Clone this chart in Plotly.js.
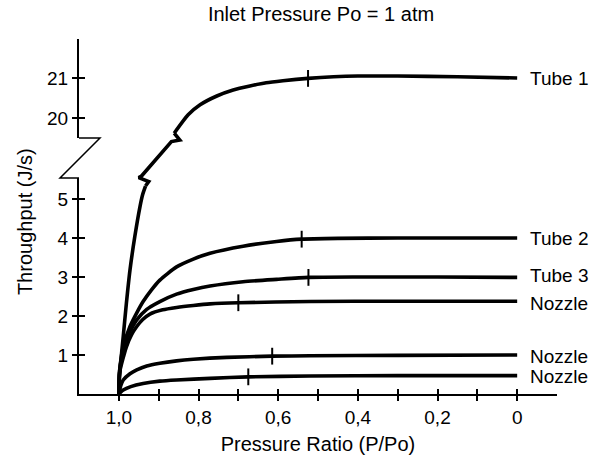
<!DOCTYPE html>
<html>
<head>
<meta charset="utf-8">
<script src="https://cdn.plot.ly/plotly-3.0.1.min.js"></script>
<style>html,body{margin:0;padding:0;background:#fff;}#chart{width:600px;height:460px;}</style>
</head>
<body>
<div id="chart"></div>
<script>
// ---- data ----
var xTickVals = [1.0, 0.9, 0.8, 0.7, 0.6, 0.5, 0.4, 0.3, 0.2, 0.1, 0];
var xTickText = ["1,0", "", "0,8", "", "0,6", "", "0,4", "", "0,2", "", "0"];
var yLowTicks = [1, 2, 3, 4, 5];
var yHighTicks = [20, 21];

// Tube 1 (lower part, below the axis break)
var tube1LowX = [1.0, 0.999, 0.997, 0.989, 0.981, 0.972, 0.960, 0.947, 0.940, 0.933];
var tube1LowY = [0, 0.3, 0.62, 1.47, 2.33, 3.18, 4.03, 4.80, 5.12, 5.33];
// Tube 1 across the break (fraction of the gap: 0 = bottom edge, 1 = top edge)
var tube1GapX = [0.933, 0.925, 0.950, 0.943, 0.868, 0.847, 0.861];
var tube1GapY = [-0.2, -0.09, 0.01, 0.05, 0.91, 0.95, 1.12];
// Tube 1 (upper part)
var tube1HighX = [0.861, 0.826, 0.796, 0.754, 0.713, 0.671, 0.630, 0.588, 0.525, 0.461, 0.40, 0.30, 0.15, 0];
var tube1HighY = [19.62, 20.08, 20.33, 20.55, 20.70, 20.80, 20.88, 20.93, 20.99, 21.03, 21.05, 21.05, 21.03, 21.0];

var tube2X = [1.0, 0.998, 0.989, 0.972, 0.955, 0.939, 0.918, 0.897, 0.855, 0.813, 0.771, 0.688, 0.604, 0.541, 0.45, 0.3, 0.15, 0];
var tube2Y = [0, 0.6, 1.21, 1.73, 2.08, 2.37, 2.67, 2.92, 3.26, 3.46, 3.61, 3.79, 3.91, 3.97, 3.99, 4.0, 4.0, 4.0];

var tube3X = [1.0, 0.998, 0.985, 0.970, 0.955, 0.930, 0.897, 0.855, 0.813, 0.771, 0.688, 0.604, 0.524, 0.4, 0.2, 0];
var tube3Y = [0, 0.6, 1.30, 1.64, 1.90, 2.17, 2.37, 2.56, 2.68, 2.77, 2.88, 2.94, 2.99, 3.0, 3.0, 2.99];

var nozzleAX = [1.0, 0.998, 0.981, 0.968, 0.955, 0.940, 0.922, 0.890, 0.855, 0.813, 0.771, 0.700, 0.52, 0.3, 0];
var nozzleAY = [0, 0.55, 1.21, 1.52, 1.73, 1.91, 2.05, 2.16, 2.22, 2.27, 2.31, 2.34, 2.37, 2.38, 2.38];

var nozzleBX = [1.0, 0.995, 0.989, 0.972, 0.955, 0.930, 0.897, 0.855, 0.813, 0.729, 0.615, 0.52, 0.3, 0];
var nozzleBY = [0, 0.22, 0.36, 0.52, 0.62, 0.72, 0.79, 0.85, 0.89, 0.94, 0.97, 0.98, 0.99, 1.0];

var nozzleCX = [1.0, 0.989, 0.970, 0.939, 0.897, 0.855, 0.771, 0.675, 0.52, 0.3, 0];
var nozzleCY = [0, 0.10, 0.19, 0.27, 0.33, 0.36, 0.40, 0.44, 0.46, 0.47, 0.47];

// characteristic-point marks on each curve
var markLowX = [0.541, 0.524, 0.700, 0.615, 0.675];
var markLowY = [3.97, 2.99, 2.34, 0.97, 0.44];
var markHighX = [0.525];
var markHighY = [20.99];

// curve labels at the right end
var labelText = ["Tube 1", "Tube 2", "Tube 3", "Nozzle", "Nozzle", "Nozzle"];
var labelY = [21.0, 4.0, 3.05, 2.33, 0.97, 0.44];
var labelAxis = ["y2", "y", "y", "y", "y", "y"];

// ---- chart ----
var FONT = "Liberation Sans, Arial, sans-serif";
var FS = 19;
var FT = 20;
var LW = 3.6;
function curve(x, y, ya) {
  return {x: x, y: y, xaxis: "x", yaxis: ya, type: "scatter", mode: "lines",
          line: {color: "#000", width: LW, shape: "spline", smoothing: 0.6},
          hoverinfo: "skip", showlegend: false};
}
var traces = [
  curve(tube1LowX, tube1LowY, "y"),
  {x: tube1GapX, y: tube1GapY, xaxis: "x", yaxis: "y5", type: "scatter", mode: "lines",
   line: {color: "#000", width: LW}, hoverinfo: "skip", showlegend: false},
  curve(tube1HighX, tube1HighY, "y2"),
  curve(tube2X, tube2Y, "y"),
  curve(tube3X, tube3Y, "y"),
  curve(nozzleAX, nozzleAY, "y"),
  curve(nozzleBX, nozzleBY, "y"),
  curve(nozzleCX, nozzleCY, "y"),
  {x: markLowX, y: markLowY, xaxis: "x", yaxis: "y", type: "scatter", mode: "markers",
   marker: {symbol: "line-ns", size: 12, line: {color: "#000", width: 2}},
   hoverinfo: "skip", showlegend: false},
  {x: markHighX, y: markHighY, xaxis: "x", yaxis: "y2", type: "scatter", mode: "markers",
   marker: {symbol: "line-ns", size: 12, line: {color: "#000", width: 2}},
   hoverinfo: "skip", showlegend: false},
  // empty traces so the inner-tick overlay axes get drawn
  {x: [], y: [], xaxis: "x2", yaxis: "y", type: "scatter", mode: "lines", hoverinfo: "skip", showlegend: false},
  {x: [], y: [], xaxis: "x", yaxis: "y3", type: "scatter", mode: "lines", hoverinfo: "skip", showlegend: false},
  {x: [], y: [], xaxis: "x", yaxis: "y4", type: "scatter", mode: "lines", hoverinfo: "skip", showlegend: false}
];

var PH = 355;                    // plot height in px
var lowDom = [0, 216 / PH];
var highDom = [256 / PH, 1];
var lowRange = [0, 216 / 39];
var highRange = [19.5, 21 + 39 / 40];
var gapPad = 0.05;               // overlap of the break subplot into its neighbours
var gapExt = gapPad * PH / 40;
var xRange = [1.1, -0.1];
var tickFont = {family: FONT, size: FS, color: "#000"};

var annotations = labelText.map(function (t, i) {
  return {text: t, x: 0, y: labelY[i], xref: "x", yref: labelAxis[i],
          xanchor: "left", yanchor: "middle", xshift: 11, showarrow: false,
          font: {family: FONT, size: FS, color: "#000"}};
});
annotations.push({text: "Throughput (J/s)", textangle: -90, xref: "paper", yref: "paper",
  x: -0.113, y: 0.487, xanchor: "center", yanchor: "middle", showarrow: false,
  font: {family: FONT, size: FT, color: "#000"}});

var layout = {
  width: 600, height: 460,
  margin: {l: 79, r: 43, t: 39, b: 66},
  paper_bgcolor: "#fff", plot_bgcolor: "rgba(0,0,0,0)",
  font: {family: FONT, color: "#000"},
  showlegend: false,
  title: {text: "Inlet Pressure Po = 1 atm", x: 0.535, xanchor: "center",
          y: 1 - 14 / 460, yanchor: "middle", yref: "container",
          font: {family: FONT, size: FT, color: "#000"}},
  xaxis: {range: xRange, anchor: "y", showline: true, linecolor: "#000", linewidth: 2,
          showgrid: false, zeroline: false, ticks: "outside", ticklen: 5, tickwidth: 2, tickcolor: "#000",
          tickmode: "array", tickvals: xTickVals, ticktext: xTickText, tickfont: tickFont,
          title: {text: "Pressure Ratio (P/Po)", font: {family: FONT, size: FT, color: "#000"}, standoff: 10}},
  xaxis2: {range: xRange, overlaying: "x", anchor: "y", side: "bottom", showline: false,
           showgrid: false, zeroline: false, ticks: "inside", ticklen: 5, tickwidth: 2, tickcolor: "#000",
           tickmode: "array", tickvals: xTickVals, showticklabels: false},
  yaxis: {domain: lowDom, range: lowRange, anchor: "x", showline: true, linecolor: "#000", linewidth: 2,
          showgrid: false, zeroline: false, ticks: "outside", ticklen: 5, tickwidth: 2, tickcolor: "#000",
          tickmode: "array", tickvals: yLowTicks, tickfont: tickFont},
  yaxis2: {domain: highDom, range: highRange, anchor: "x", showline: true, linecolor: "#000", linewidth: 2,
           showgrid: false, zeroline: false, ticks: "outside", ticklen: 5, tickwidth: 2, tickcolor: "#000",
           tickmode: "array", tickvals: yHighTicks, tickfont: tickFont},
  yaxis3: {overlaying: "y", range: lowRange, anchor: "x", side: "left", showline: false,
           showgrid: false, zeroline: false, ticks: "inside", ticklen: 6, tickwidth: 2, tickcolor: "#000",
           tickmode: "array", tickvals: yLowTicks, showticklabels: false},
  yaxis4: {overlaying: "y2", range: highRange, anchor: "x", side: "left", showline: false,
           showgrid: false, zeroline: false, ticks: "inside", ticklen: 6, tickwidth: 2, tickcolor: "#000",
           tickmode: "array", tickvals: yHighTicks, showticklabels: false},
  yaxis5: {domain: [lowDom[1] - gapPad, highDom[0] + gapPad], range: [-gapExt, 1 + gapExt],
           anchor: "x", visible: false, showgrid: false, zeroline: false},
  shapes: [{type: "path", xref: "paper", yref: "paper",
            path: "M0," + highDom[0] + " L0.0439," + highDom[0] + " L-0.0397," + lowDom[1] + " L0," + lowDom[1],
            line: {color: "#000", width: 1.5}}],
  annotations: annotations
};

Plotly.newPlot("chart", traces, layout, {displayModeBar: false, staticPlot: true});
</script>
</body>
</html>
